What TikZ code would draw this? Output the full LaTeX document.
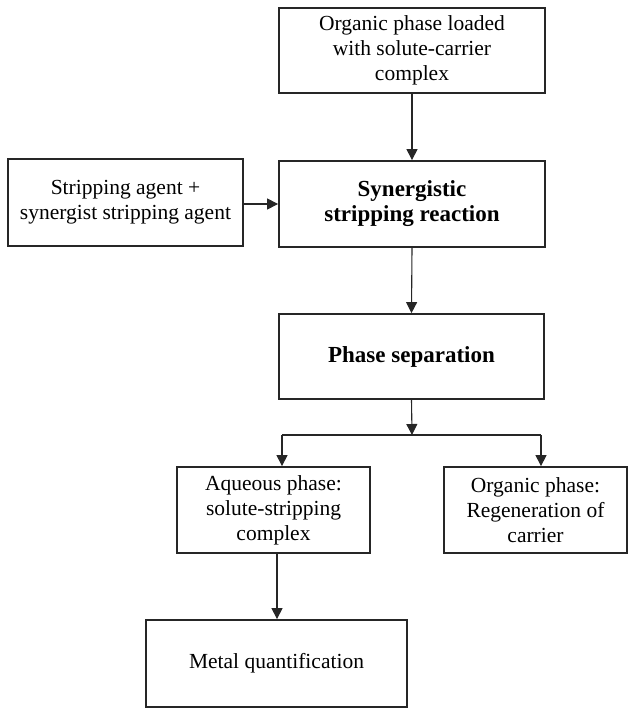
\documentclass[tikz,border=0pt]{standalone}
\usepackage{fontspec}
\setmainfont{Liberation Serif}
\usetikzlibrary{arrows.meta,calc}
\begin{document}
\begin{tikzpicture}[x=1pt,y=-1pt,
  box/.style={draw=black!85,line width=1.8pt,rectangle,inner sep=0pt,align=center,
    font=\fontsize{21.5}{25}\selectfont},
  bbox/.style={box,font=\fontsize{23}{25}\selectfont\bfseries},
  arr/.style={draw=black!85,line width=1.1pt,-{Triangle[length=11pt,width=11pt]}},
  ln/.style={draw=black!85,line width=1.1pt}]
\useasboundingbox (0,0) rectangle (628,708);
\node[box,minimum width=266pt,minimum height=85pt] (b1) at (412,50.5) {Organic phase loaded\\with solute-carrier\\complex};
\node[bbox,minimum width=266pt,minimum height=86pt] (b2) at (412,204) {Synergistic\\stripping reaction};
\node[box,minimum width=235pt,minimum height=87pt] (b3) at (125.5,202.5) {Stripping agent +\\synergist stripping agent};
\node[bbox,minimum width=265pt,minimum height=85pt] (b4) at (411.5,356.5) {Phase separation};
\node[box,minimum width=193pt,minimum height=86pt] (b5) at (273.5,510) {Aqueous phase:\\solute-stripping\\complex};
\node[box,minimum width=183pt,minimum height=86pt] (b6) at (535.5,510) {Organic phase:\\Regeneration of\\carrier};
\node[box,minimum width=261pt,minimum height=87pt] (b7) at (276.5,663.5) {Metal quantification};
\coordinate (split) at (412,435);
\coordinate (la) at (282,435);
\coordinate (ra) at (541,435);
\coordinate (q) at (277,553);
\draw[arr] (b1) -- (b2);
\draw[arr] (b3.east |- b2.west) -- (b2.west);
\draw[arr] (b2.south) -- (b4.north);
\draw[arr] (b4.south) -- (split);
\draw[ln] (la) -- (ra);
\draw[arr] (la) -- (la |- b5.north);
\draw[arr] (ra) -- (ra |- b6.north);
\draw[arr] (q) -- (q |- b7.north);
\end{tikzpicture}
\end{document}
